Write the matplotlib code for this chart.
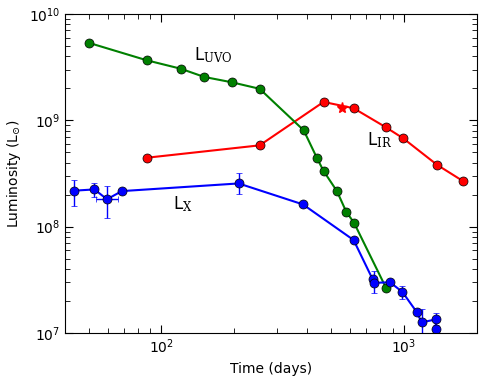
import numpy as np
import matplotlib
matplotlib.use('Agg')
import matplotlib.pyplot as plt

plt.rcParams['font.family'] = 'DejaVu Sans'
plt.rcParams['font.size'] = 10
plt.rcParams['mathtext.fontset'] = 'custom'
plt.rcParams['mathtext.rm'] = 'DejaVu Serif'
plt.rcParams['mathtext.it'] = 'DejaVu Serif:italic'
plt.rcParams['mathtext.bf'] = 'DejaVu Serif:bold'

# UVO luminosity
uvo_t = [50, 87, 120, 150, 195, 254, 386, 437, 466, 529, 578, 622, 843]
uvo_L = [5.37e9, 3.67e9, 3.06e9, 2.56e9, 2.28e9, 1.98e9, 8.05e8, 4.45e8,
         3.34e8, 2.16e8, 1.38e8, 1.09e8, 2.66e7]

# IR luminosity
ir_t = [87, 254, 466, 620, 843, 993, 1368, 1757]
ir_L = [4.45e8, 5.82e8, 1.49e9, 1.30e9, 8.59e8, 6.77e8, 3.82e8, 2.67e8]
star_t = [553]
star_L = [1.30e9]

# X-ray luminosity, with lower / upper bounds (same value = no bar)
x_t = [43.5, 52.9, 59.6, 68.6, 208, 383, 620, 743, 750, 875, 984, 1127, 1183, 1352, 1352]
x_L = [2.18e8, 2.24e8, 1.81e8, 2.16e8, 2.55e8, 1.62e8, 7.48e7, 3.19e7, 2.96e7,
       3.0e7, 2.44e7, 1.58e7, 1.26e7, 1.34e7, 1.10e7]
x_lo = [1.58e8, 1.91e8, 1.21e8, 2.16e8, 2.01e8, 1.62e8, 7.48e7, 3.19e7, 2.39e7,
        3.0e7, 2.10e7, 1.58e7, 1.0e7, 1.19e7, 1.10e7]
x_hi = [2.75e8, 2.59e8, 2.41e8, 2.16e8, 3.17e8, 1.62e8, 7.48e7, 3.19e7, 3.85e7,
        3.0e7, 2.76e7, 1.58e7, 1.68e7, 1.53e7, 1.10e7]
x_tlo = [43.5, 52.9, 53.9, 68.6, 208, 383, 620, 743, 750, 875, 984, 1127, 1183, 1352, 1352]
x_thi = [43.5, 52.9, 66.2, 68.6, 208, 383, 620, 743, 750, 875, 984, 1127, 1183, 1352, 1352]

fig = plt.figure(figsize=(4.84, 3.79), dpi=100)
ax = fig.add_axes([0.1343, 0.1214, 0.8512, 0.8416])

xL = np.array(x_L)
xt = np.array(x_t)
yerr = [xL - np.array(x_lo), np.array(x_hi) - xL]
xerr = [xt - np.array(x_tlo), np.array(x_thi) - xt]
ax.errorbar(x_t, x_L, yerr=yerr, xerr=xerr, fmt='o-', color='b', ecolor='b',
            elinewidth=1, capsize=2, capthick=1, lw=1.5, ms=6.5, mec='k', mew=0.5)

ax.plot(ir_t, ir_L, 'o-', color='r', lw=1.5, ms=6.5, mec='k', mew=0.5)
ax.plot(star_t, star_L, '*', color='r', ms=8, mec='r')

ax.plot(uvo_t, uvo_L, 'o-', color='g', lw=1.5, ms=6.5, mec='k', mew=0.5)

ax.text(136, 3.69e9, r'L$_{\rm UVO}$', fontsize=12, va='baseline')
ax.text(706, 5.86e8, r'L$_{\rm IR}$', fontsize=12, va='baseline')
ax.text(111.6, 1.46e8, r'L$_{\rm X}$', fontsize=12, va='baseline')

ax.set_xscale('log')
ax.set_yscale('log')
ax.set_xlim(40, 2000)
ax.set_ylim(1e7, 1e10)
ax.set_xlabel('Time (days)')
ax.set_ylabel(r'Luminosity (L$_{\odot}$)')
ax.tick_params(which='both', direction='in', top=True, right=True)
ax.tick_params(which='major', length=6)
ax.tick_params(which='minor', length=3.5)

fig.savefig('out.png', dpi=100)
